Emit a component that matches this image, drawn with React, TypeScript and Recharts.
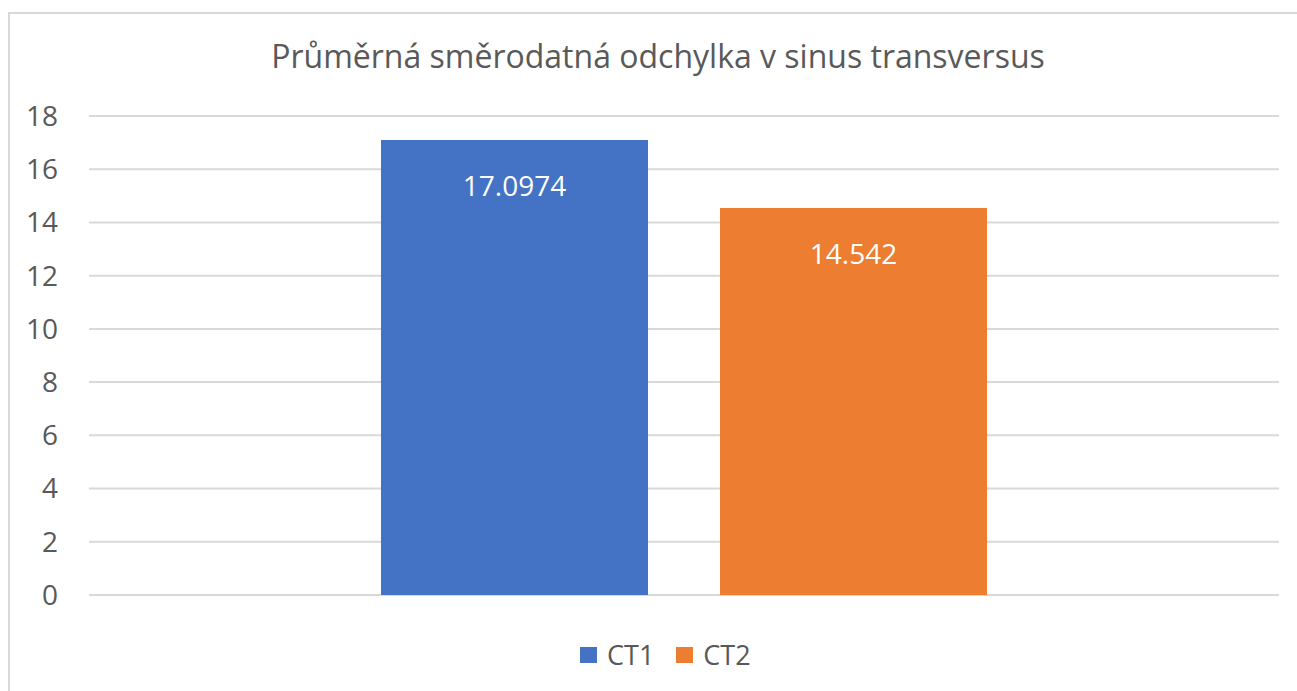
import { Bar, BarChart, CartesianGrid, LabelList, Legend, XAxis, YAxis } from "recharts"

const categories = [""]
const seriesNames = ["CT1", "CT2"]
const ct1Values = [17.0974]
const ct2Values = [14.542]
const yTicks = [0, 2, 4, 6, 8, 10, 12, 14, 16, 18]
const seriesColors = ["#4472C4", "#ED7D31"]

const data = categories.map((name, i) => ({
  name,
  CT1: ct1Values[i],
  CT2: ct2Values[i],
}))

const font = "'Open Sans', sans-serif"
const textColor = "#595959"

function LegendContent() {
  return (
    <div style={{ display: "flex", alignItems: "center", fontFamily: font, fontSize: 27, color: textColor, lineHeight: "36px" }}>
      {seriesNames.map((s, i) => (
        <div key={s} style={{ display: "flex", alignItems: "center", marginRight: i === 0 ? 22 : 0 }}>
          <span style={{ width: 17, height: 16, background: seriesColors[i], display: "inline-block", marginRight: 10 }} />
          <span>{s}</span>
        </div>
      ))}
    </div>
  )
}

export default function App() {
  return (
    <div style={{ position: "absolute", left: 0, top: 0, width: 1297, height: 691, overflow: "hidden", background: "#fff" }}>
      <div style={{ position: "absolute", left: 8, top: 12, width: 1400, height: 800, border: "2px solid #d9d9d9" }} />
      <div
        style={{
          position: "absolute",
          left: 0,
          width: 1316,
          top: 34,
          textAlign: "center",
          fontFamily: font,
          fontSize: 32,
          color: textColor,
        }}
      >
        Průměrná směrodatná odchylka v sinus transversus
      </div>
      <div style={{ position: "absolute", left: 0, top: 0 }}>
        <BarChart
          width={1297}
          height={691}
          data={data}
          margin={{ top: 116, right: 18, bottom: 60, left: 0 }}
          barGap={72}
          barSize={267}
        >
          <CartesianGrid vertical={false} stroke="#d9d9d9" strokeWidth={2} />
          <XAxis dataKey="name" tick={false} tickLine={false} axisLine={{ stroke: "#d9d9d9", strokeWidth: 2 }} height={0} />
          <YAxis
            domain={[0, 18]}
            ticks={yTicks}
            width={89}
            axisLine={false}
            tickLine={false}
            tickSize={0}
            tickMargin={31}
            tick={{ fill: textColor, fontSize: 28, fontFamily: font }}
          />
          <Legend
            content={<LegendContent />}
            wrapperStyle={{ left: 580, top: 637, width: "auto" }}
          />
          {seriesNames.map((s, i) => (
            <Bar key={s} dataKey={s} fill={seriesColors[i]} isAnimationActive={false}>
              <LabelList
                dataKey={s}
                position="insideTop"
                offset={36}
                fill="#ffffff"
                fontSize={28}
                fontFamily={font}
              />
            </Bar>
          ))}
        </BarChart>
      </div>
    </div>
  )
}
